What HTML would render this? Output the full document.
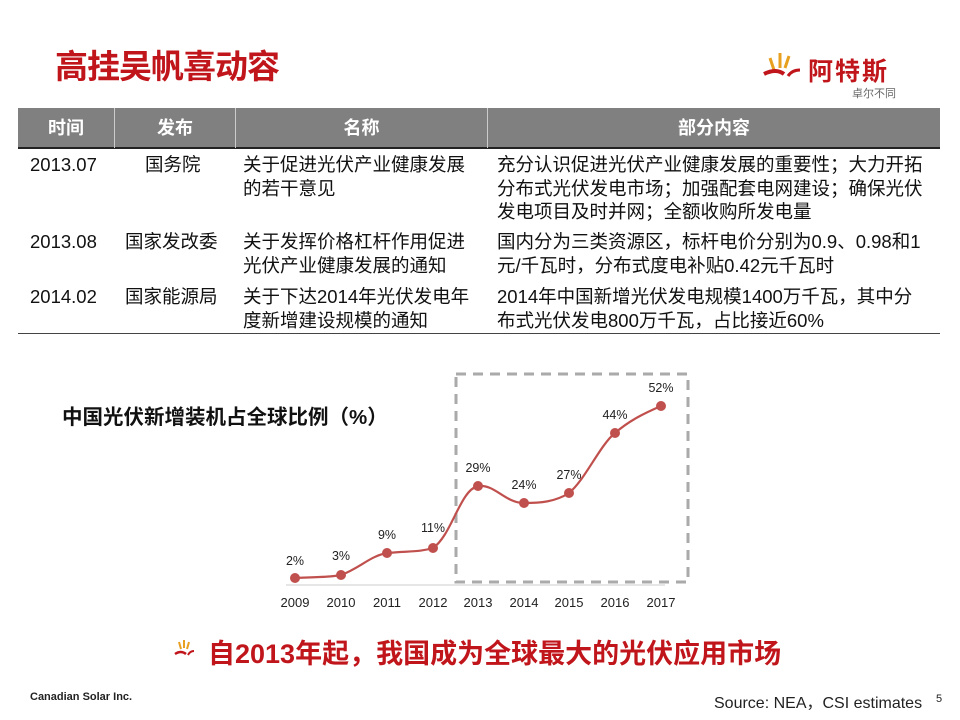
<!DOCTYPE html>
<html><head><meta charset="utf-8"><style>
body{margin:0;width:960px;height:720px;background:#fff;position:relative;overflow:hidden;font-family:"Liberation Sans","Noto Sans CJK SC",sans-serif;}
.a{position:absolute;white-space:nowrap;}
.t{font-size:18.5px;line-height:23.5px;color:#111;}
.h{color:#fff;font-size:18px;font-weight:bold;top:108px;height:40px;line-height:40px;text-align:center;}
</style></head><body>
<div class="a" style="left:55px;top:40px;font-size:33px;font-weight:bold;color:#c0161b;letter-spacing:-1px">高挂吴帆喜动容</div>
<svg class="a" style="left:762px;top:50px" width="40" height="36"><g stroke="#e8a020" stroke-width="3" fill="none"><line x1="8" y1="8" x2="12" y2="20"/><line x1="18" y1="3" x2="18" y2="18"/><line x1="27" y1="6" x2="23" y2="18"/></g><path d="M2 24 Q14 18 22 24" stroke="#c0161b" stroke-width="4" fill="none"/><path d="M26 26 Q30 20 38 20" stroke="#c0161b" stroke-width="3" fill="none"/></svg>
<div class="a" style="left:808px;top:52px;font-size:25px;font-weight:bold;color:#c0161b;letter-spacing:2px">阿特斯</div>
<div class="a" style="left:852px;top:85px;font-size:11px;color:#666">卓尔不同</div>
<div class="a" style="left:18px;top:108px;width:922px;height:40px;background:#808080"></div>
<div class="a" style="left:18px;top:147px;width:922px;height:2px;background:#222"></div>
<div class="a" style="left:18px;top:333px;width:922px;height:1px;background:#444"></div>
<div class="a" style="left:114px;top:108px;width:1px;height:40px;background:#ccc"></div>
<div class="a" style="left:235px;top:108px;width:1px;height:40px;background:#ccc"></div>
<div class="a" style="left:487px;top:108px;width:1px;height:40px;background:#ccc"></div>
<div class="a h" style="left:18px;width:96px">时间</div>
<div class="a h" style="left:115px;width:120px">发布</div>
<div class="a h" style="left:236px;width:251px">名称</div>
<div class="a h" style="left:488px;width:452px">部分内容</div>
<div class="a t" style="left:30px;top:153px">2013.07</div>
<div class="a t" style="left:145px;top:153px">国务院</div>
<div class="a t" style="left:243px;top:153px">关于促进光伏产业健康发展<br>的若干意见</div>
<div class="a t" style="left:497px;top:153px">充分认识促进光伏产业健康发展的重要性；大力开拓<br>分布式光伏发电市场；加强配套电网建设；确保光伏<br>发电项目及时并网；全额收购所发电量</div>
<div class="a t" style="left:30px;top:230px">2013.08</div>
<div class="a t" style="left:125px;top:230px">国家发改委</div>
<div class="a t" style="left:243px;top:230px">关于发挥价格杠杆作用促进<br>光伏产业健康发展的通知</div>
<div class="a t" style="left:497px;top:230px">国内分为三类资源区，标杆电价分别为0.9、0.98和1<br>元/千瓦时，分布式度电补贴0.42元千瓦时</div>
<div class="a t" style="left:30px;top:285px">2014.02</div>
<div class="a t" style="left:125px;top:285px">国家能源局</div>
<div class="a t" style="left:243px;top:285px">关于下达2014年光伏发电年<br>度新增建设规模的通知</div>
<div class="a t" style="left:497px;top:285px">2014年中国新增光伏发电规模1400万千瓦，其中分<br>布式光伏发电800万千瓦，占比接近60%</div>
<div class="a" style="left:62px;top:400px;font-size:20.5px;font-weight:bold;color:#111">中国光伏新增装机占全球比例（%）</div>
<svg class="a" style="left:0;top:0" width="960" height="720" font-family="Liberation Sans, sans-serif">
<rect x="456" y="374" width="232" height="208" fill="none" stroke="#aaa" stroke-width="3" stroke-dasharray="10,7"/>
<line x1="286" y1="585" x2="665" y2="585" stroke="#ccc" stroke-width="1"/>
<path d="M295 578 C320 577 330 577 341 575 C360 568 370 556 387 553 C410 551 420 552 433 548 C452 535 460 490 478 486 C495 484 505 503 524 503 C540 503 555 502 569 493 C585 480 600 445 615 433 C630 420 645 413 661 406" fill="none" stroke="#c0504d" stroke-width="2.2"/>
<g fill="#c0504d"><circle cx="295" cy="578" r="5"/><circle cx="341" cy="575" r="5"/><circle cx="387" cy="553" r="5"/><circle cx="433" cy="548" r="5"/><circle cx="478" cy="486" r="5"/><circle cx="524" cy="503" r="5"/><circle cx="569" cy="493" r="5"/><circle cx="615" cy="433" r="5"/><circle cx="661" cy="406" r="5"/></g>
<g font-size="12.5" fill="#222" text-anchor="middle"><text x="295" y="565">2%</text><text x="341" y="560">3%</text><text x="387" y="539">9%</text><text x="433" y="532">11%</text><text x="478" y="472">29%</text><text x="524" y="489">24%</text><text x="569" y="479">27%</text><text x="615" y="419">44%</text><text x="661" y="392">52%</text></g>
<g font-size="13" fill="#222" text-anchor="middle"><text x="295" y="607">2009</text><text x="341" y="607">2010</text><text x="387" y="607">2011</text><text x="433" y="607">2012</text><text x="478" y="607">2013</text><text x="524" y="607">2014</text><text x="569" y="607">2015</text><text x="615" y="607">2016</text><text x="661" y="607">2017</text></g>
<g transform="translate(175,640)"><g stroke="#e8a020" stroke-width="2"><line x1="4" y1="2" x2="6" y2="9"/><line x1="9" y1="0" x2="9" y2="8"/><line x1="14" y1="2" x2="12" y2="9"/></g><path d="M0 14 Q6 10 11 14" stroke="#c0161b" stroke-width="2.5" fill="none"/><path d="M13 15 Q15 11 19 11" stroke="#c0161b" stroke-width="2" fill="none"/></g>
</svg>
<div class="a" style="left:208px;top:632px;font-size:27px;font-weight:bold;color:#c0161b">自2013年起，我国成为全球最大的光伏应用市场</div>
<div class="a" style="left:30px;top:691px;font-size:11px;font-weight:bold;color:#222">Canadian Solar Inc.</div>
<div class="a" style="left:714px;top:689px;font-size:16px;color:#222">Source: NEA，CSI estimates</div>
<div class="a" style="left:936px;top:693px;font-size:11px;color:#222">5</div>
</body></html>
